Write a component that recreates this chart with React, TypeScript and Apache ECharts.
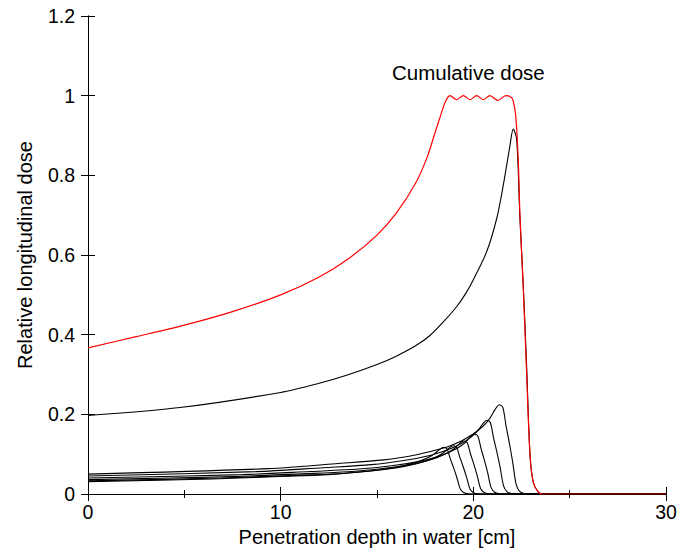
import React, { useEffect, useRef } from "react";
import * as echarts from "echarts";

const xTicks = [0, 10, 20, 30];
const yTicks = [0, 0.2, 0.4, 0.6, 0.8, 1, 1.2];

const cumulativeX = [0, 2.5, 5, 7.5, 10, 12, 13.5, 15, 16, 17, 17.6, 18.0, 18.3, 18.55, 18.79, 19.13, 19.48, 19.83, 20.17, 20.52, 20.86, 21.27, 21.69, 21.9, 22.05, 22.2, 22.33, 22.42, 22.59, 22.76, 22.94, 23.11, 23.37, 23.6, 30];
const cumulativeY = [0.367, 0.395, 0.424, 0.458, 0.5, 0.545, 0.59, 0.65, 0.705, 0.78, 0.845, 0.905, 0.95, 0.985, 1.0, 0.99, 1.0, 0.99, 1.0, 0.99, 1.0, 0.988, 1.0, 0.998, 0.99, 0.95, 0.84, 0.7, 0.52, 0.31, 0.1, 0.03, 0.005, 0, 0];

const peakGX = [0, 4.77, 10, 12, 13.42, 15, 16, 17, 17.75, 18.5, 19.13, 19.6, 20.0, 20.69, 21.21, 21.55, 21.9, 22.07, 22.25, 22.42, 22.59, 22.76, 22.94, 23.11, 23.37, 23.6, 30];
const peakGY = [0.197, 0.217, 0.255, 0.278, 0.298, 0.325, 0.346, 0.372, 0.398, 0.435, 0.47, 0.503, 0.538, 0.608, 0.691, 0.774, 0.874, 0.916, 0.89, 0.69, 0.525, 0.33, 0.1, 0.03, 0.005, 0, 0];

const peakAX = [0, 6.45, 9.95, 12.45, 14.15, 15.55, 16.45, 17.05, 17.6, 17.95, 18.25, 18.45, 18.63, 18.8, 18.97, 19.14, 19.32, 19.49, 19.75, 20.5, 30];
const peakAY = [0.031, 0.0378, 0.0439, 0.0486, 0.0551, 0.0633, 0.0719, 0.08, 0.0903, 0.0998, 0.1118, 0.117, 0.1135, 0.0889, 0.0667, 0.0421, 0.0129, 0.0039, 0.0006, 0, 0];

const peakBX = [0, 6.95, 10.45, 12.95, 14.65, 16.05, 16.95, 17.55, 18.1, 18.45, 18.75, 18.95, 19.13, 19.3, 19.47, 19.64, 19.82, 19.99, 20.25, 21, 30];
const peakBY = [0.033, 0.04, 0.0462, 0.051, 0.0576, 0.066, 0.0748, 0.0832, 0.0937, 0.1034, 0.1157, 0.121, 0.1174, 0.092, 0.069, 0.0436, 0.0133, 0.004, 0.0006, 0, 0];

const peakCX = [0, 7.5, 11, 13.5, 15.2, 16.6, 17.5, 18.1, 18.65, 19.0, 19.3, 19.5, 19.68, 19.85, 20.02, 20.19, 20.37, 20.54, 20.8, 21.5, 30];
const peakCY = [0.036, 0.0437, 0.0506, 0.0559, 0.0632, 0.0724, 0.0821, 0.0913, 0.1029, 0.1136, 0.1272, 0.133, 0.129, 0.101, 0.0758, 0.0479, 0.0146, 0.0044, 0.0007, 0, 0];

const peakDX = [0, 8.05, 11.55, 14.05, 15.75, 17.15, 18.05, 18.65, 19.2, 19.55, 19.85, 20.05, 20.23, 20.4, 20.57, 20.74, 20.92, 21.09, 21.35, 22, 30];
const peakDY = [0.04, 0.0487, 0.0565, 0.0626, 0.0708, 0.0813, 0.0923, 0.1027, 0.1159, 0.128, 0.1434, 0.15, 0.1455, 0.114, 0.0855, 0.054, 0.0165, 0.005, 0.0008, 0, 0];

const peakEX = [0, 8.7, 12.2, 14.7, 16.4, 17.8, 18.7, 19.3, 19.85, 20.2, 20.5, 20.7, 20.88, 21.05, 21.22, 21.39, 21.57, 21.74, 22.0, 22.6, 30];
const peakEY = [0.045, 0.0561, 0.066, 0.0737, 0.0842, 0.0975, 0.1115, 0.1248, 0.1416, 0.157, 0.1766, 0.185, 0.1795, 0.1406, 0.1055, 0.0666, 0.0204, 0.0061, 0.0009, 0, 0];

const peakFX = [0, 9.35, 12.85, 15.35, 17.05, 18.45, 19.35, 19.95, 20.5, 20.85, 21.15, 21.35, 21.53, 21.7, 21.87, 22.04, 22.22, 22.39, 22.65, 23.2, 30];
const peakFY = [0.05, 0.0637, 0.0761, 0.0857, 0.0987, 0.1153, 0.1327, 0.1492, 0.1701, 0.1892, 0.2136, 0.224, 0.2173, 0.1702, 0.1277, 0.0806, 0.0246, 0.0074, 0.0011, 0, 0];

const annotation = "Cumulative dose";
const xName = "Penetration depth in water [cm]";
const yName = "Relative longitudinal dose";

const FONT = "Liberation Sans";

function pairs(xs: number[], ys: number[]) {
  return xs.map((x, i) => [x, ys[i]]);
}

export default function App() {
  const ref = useRef<HTMLDivElement>(null);
  useEffect(() => {
    if (!ref.current) return;
    const chart = echarts.init(ref.current, null, { renderer: "svg" });
    const blackCurves = [
      [peakAX, peakAY],
      [peakBX, peakBY],
      [peakCX, peakCY],
      [peakDX, peakDY],
      [peakEX, peakEY],
      [peakFX, peakFY],
      [peakGX, peakGY],
    ];
    const lineCommon = {
      type: "line" as const,
      showSymbol: false,
      smooth: 0.3,
      clip: true,
      silent: true,
    };
    const xAxisBase = {
      type: "value" as const,
      min: xTicks[0],
      max: xTicks[xTicks.length - 1],
      interval: 10,
      axisLine: { show: true, lineStyle: { color: "#000", width: 1 } },
      axisTick: { show: true, inside: true, length: 7, lineStyle: { color: "#000" } },
      minorTick: { show: true, splitNumber: 2, length: 4, lineStyle: { color: "#000" } },
      splitLine: { show: false },
      minorSplitLine: { show: false },
    };
    const yAxisBase = {
      type: "value" as const,
      min: yTicks[0],
      max: yTicks[yTicks.length - 1],
      interval: 0.2,
      axisLine: { show: true, lineStyle: { color: "#000", width: 1 } },
      axisTick: { show: true, inside: true, length: 7, lineStyle: { color: "#000" } },
      splitLine: { show: false },
    };
    chart.setOption({
      animation: false,
      backgroundColor: "#fff",
      grid: { left: 88, right: 24, top: 16, bottom: 55, containLabel: false },
      xAxis: [
        {
          ...xAxisBase,
          position: "bottom",
          axisLabel: { color: "#000", fontSize: 19.5, fontFamily: FONT, margin: 8 },
          name: xName,
          nameLocation: "middle",
          nameGap: 33,
          nameTextStyle: { color: "#000", fontSize: 20, fontFamily: FONT },
        },
        { ...xAxisBase, position: "top", axisLabel: { show: false } },
      ],
      yAxis: [
        {
          ...yAxisBase,
          position: "left",
          axisLabel: { color: "#000", fontSize: 19.5, fontFamily: FONT, margin: 13 },
          name: yName,
          nameLocation: "middle",
          nameGap: 53,
          nameTextStyle: { color: "#000", fontSize: 20, fontFamily: FONT },
        },
        { ...yAxisBase, position: "right", axisLabel: { show: false } },
      ],
      graphic: [
        {
          type: "text",
          left: 392,
          top: 62,
          style: { text: annotation, fill: "#000", font: `20.5px "${FONT}"` },
        },
      ],
      series: [
        ...blackCurves.map(([xs, ys]) => ({
          ...lineCommon,
          data: pairs(xs, ys),
          lineStyle: { color: "#000", width: 1.1 },
          itemStyle: { color: "#000" },
        })),
        {
          ...lineCommon,
          data: pairs(cumulativeX, cumulativeY),
          lineStyle: { color: "#ff0000", width: 1.2 },
          itemStyle: { color: "#ff0000" },
        },
      ],
    });
    return () => chart.dispose();
  }, []);
  return <div ref={ref} style={{ width: 690, height: 552, position: "absolute", left: 0, top: 0 }} />;
}
